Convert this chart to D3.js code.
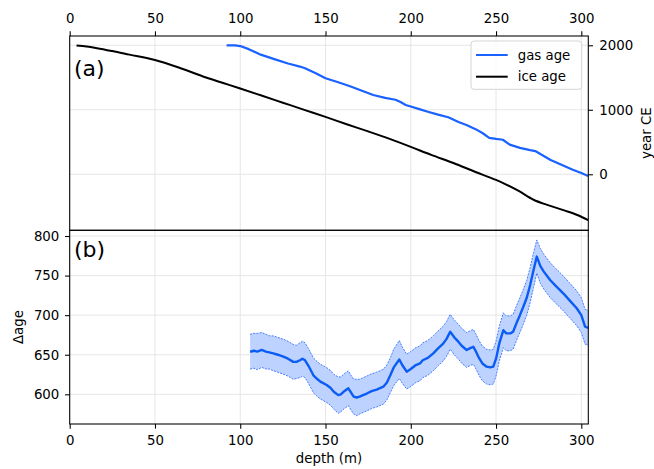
<!DOCTYPE html>
<html><head><meta charset="utf-8">
<script src="https://cdn.jsdelivr.net/npm/d3@7"></script>
<style>body{margin:0;background:#fff}svg{display:block}text{font-family:"DejaVu Sans",sans-serif}</style>
</head><body><svg id="c" width="654" height="469"></svg>
<script>
// ---- data ----
const depthTicks = [0, 50, 100, 150, 200, 250, 300];
const yearTicks = [0, 1000, 2000];
const deltaTicks = [600, 650, 700, 750, 800];

const iceDepth = [4, 10, 16, 25, 35, 50, 65, 80, 90, 100, 112, 125, 138, 150, 162, 175, 188, 200, 212, 225, 238, 250, 256, 263, 272, 280, 290, 298, 304];
const iceAge   = [1995, 1980, 1955, 1910, 1855, 1772, 1645, 1500, 1415, 1330, 1225, 1110, 995, 890, 780, 665, 545, 425, 300, 175, 35, -88, -160, -255, -395, -475, -560, -635, -710];

const gasDepth = [92, 97, 100, 105, 112, 120, 128, 135, 138, 144, 150, 157, 164, 171, 178, 185, 191, 194, 197, 200, 205, 210, 216, 222, 228, 233, 238, 242, 246, 250, 254, 258, 264, 270, 273, 277, 282, 288, 295, 300, 304];
const gasAge   = [2000, 1998, 1988, 1940, 1855, 1785, 1718, 1670, 1643, 1570, 1490, 1430, 1369, 1300, 1229, 1185, 1155, 1120, 1075, 1050, 1010, 970, 925, 885, 810, 760, 700, 640, 565, 548, 535, 460, 410, 375, 360, 300, 222, 150, 70, 20, -25];

const deltaDepth = [105.8, 108, 110, 112.6, 115, 117, 119.4, 122, 125.3, 128, 131.1, 133, 135, 136.5, 138, 140, 142.9, 144.8, 147, 150.7, 153, 155, 157.5, 159, 161, 163.4, 165, 166.5, 168.3, 170, 172, 174.2, 177, 180, 183.9, 186, 188, 190, 193.3, 195, 197.6, 200, 203, 205.4, 207, 210, 213.2, 216, 219, 221, 223.1, 225.5, 227.9, 230, 232.8, 234.5, 236.7, 238, 240, 242, 244.5, 246.5, 248.4, 250, 252, 254.3, 256, 258.4, 260, 262, 264, 266, 268, 270, 272, 273.9, 276, 278, 281.7, 285, 289.4, 293, 297.3, 300, 302.2, 304];
const deltaAge   = [653.8, 655, 654, 656, 654, 653, 651.8, 650, 647.5, 645, 641, 641, 643, 645, 643, 636, 624, 620, 616, 611.7, 608, 603, 599, 600, 604, 607.6, 602, 597, 596, 597, 599, 601, 604, 606, 609.6, 615, 624, 634, 644, 637, 628.6, 632, 637, 639, 643, 646, 651.8, 658, 664, 670, 679, 672, 666.5, 661, 656, 658, 660, 655, 646, 639, 634.9, 634, 635, 645, 665, 681, 677, 677, 679, 690, 700, 710.7, 722, 738, 757, 774, 762, 755, 744.4, 737, 727.6, 719, 708.7, 700, 685.4, 684];
const deltaSigma = [22, 22, 23, 22, 22, 21, 22, 22, 22, 22, 22, 21, 22, 22, 22, 22, 22, 22, 22, 22, 22, 22, 23, 22, 22, 22, 22, 22, 23, 22, 22, 22, 22, 22, 22, 22, 22, 23, 24, 23, 22, 22, 22, 22, 22, 22, 22, 22, 22, 22, 22, 22, 22, 22, 22, 22, 22, 22, 22, 22, 22, 22, 22, 22, 22, 22, 22, 22, 22, 22, 22, 22, 22, 22, 22, 21, 22, 22, 22, 22, 22, 22, 22, 22, 22, 22];

// ---- layout ----
const svg = d3.select('#c');
const L = 69.7, R = 588.3, T1 = 36, B1 = 230.3, T2 = 230.3, B2 = 424;
const x = d3.scaleLinear().domain([0, 304.1]).range([L, R]);
const yT = d3.scaleLinear().domain([-864, 2144]).range([230, T1]);
const yB = d3.scaleLinear().domain([562.5, 806.7]).range([B2, 230.7]);
const blue = '#1a62ff', lineBlue = '#0a5cf5', bandFill = '#bed2ff', gridC = '#e6e6e6';
const FS = '13.33px', FF = '"DejaVu Sans", sans-serif';

const defs = svg.append('defs');
defs.append('clipPath').attr('id', 'clip1').append('rect').attr('x', L).attr('y', T1).attr('width', R - L).attr('height', B1 - T1);
defs.append('clipPath').attr('id', 'clip2').append('rect').attr('x', L).attr('y', T2).attr('width', R - L).attr('height', B2 - T2);

// grids
const grid = svg.append('g').attr('stroke', gridC).attr('stroke-width', 1);
grid.selectAll('line.v1').data(depthTicks).join('line').attr('class', 'v1')
  .attr('x1', d => x(d)).attr('x2', d => x(d)).attr('y1', T1).attr('y2', B1);
grid.selectAll('line.v2').data(depthTicks).join('line').attr('class', 'v2')
  .attr('x1', d => x(d)).attr('x2', d => x(d)).attr('y1', T2).attr('y2', B2);
grid.selectAll('line.h1').data(yearTicks).join('line').attr('class', 'h1')
  .attr('x1', L).attr('x2', R).attr('y1', d => yT(d)).attr('y2', d => yT(d));
grid.selectAll('line.h2').data(deltaTicks).join('line').attr('class', 'h2')
  .attr('x1', L).attr('x2', R).attr('y1', d => yB(d)).attr('y2', d => yB(d));

// panel (a)
const pa = svg.append('g').attr('clip-path', 'url(#clip1)');
const iceData = iceDepth.map((d, i) => ({d, v: iceAge[i]}));
const gasData = gasDepth.map((d, i) => ({d, v: gasAge[i]}));
const lineIce = d3.line().x(p => x(p.d)).y(p => yT(p.v)).curve(d3.curveMonotoneX);
const lineGas = d3.line().x(p => x(p.d)).y(p => yT(p.v));
pa.append('path').datum(gasData).attr('d', lineGas).attr('fill', 'none').attr('stroke', blue).attr('stroke-width', 2.2).attr('stroke-linejoin', 'round');
pa.append('path').datum(iceData).attr('d', lineIce).attr('fill', 'none').attr('stroke', '#000').attr('stroke-width', 2).attr('stroke-linejoin', 'round');

// panel (b)
const pb = svg.append('g').attr('clip-path', 'url(#clip2)');
const dData = deltaDepth.map((d, i) => ({d, v: deltaAge[i], s: deltaSigma[i]}));
pb.append('path').datum(dData)
  .attr('d', d3.area().x(p => x(p.d)).y0(p => yB(p.v - p.s)).y1(p => yB(p.v + p.s)))
  .attr('fill', bandFill).attr('stroke', 'none');
const edge = (f) => d3.line().x(p => x(p.d)).y(p => yB(f(p)));
pb.append('path').datum(dData).attr('d', edge(p => p.v + p.s)).attr('fill', 'none')
  .attr('stroke', blue).attr('stroke-width', 0.8).attr('stroke-dasharray', '2,1.2');
pb.append('path').datum(dData).attr('d', edge(p => p.v - p.s)).attr('fill', 'none')
  .attr('stroke', blue).attr('stroke-width', 0.8).attr('stroke-dasharray', '2,1.2');
pb.append('path').datum(dData).attr('d', d3.line().x(p => x(p.d)).y(p => yB(p.v)))
  .attr('fill', 'none').attr('stroke', lineBlue).attr('stroke-width', 2.4).attr('stroke-linejoin', 'round');

// axes
function styleAxis(g) {
  g.select('.domain').remove();
  g.attr('font-size', null).attr('font-family', null);
  g.selectAll('text').attr('font-size', FS).attr('font-family', FF).attr('fill', '#000');
  g.selectAll('line').attr('stroke', '#000').attr('stroke-width', 1.07);
}
const fmt = d3.format('d');
svg.append('g').attr('transform', `translate(0,${T1})`)
  .call(d3.axisTop(x).tickValues(depthTicks).tickFormat(fmt).tickSize(4.67).tickPadding(8)).call(styleAxis);
svg.append('g').attr('transform', `translate(0,${B2})`)
  .call(d3.axisBottom(x).tickValues(depthTicks).tickFormat(fmt).tickSize(4.67).tickPadding(7)).call(styleAxis);
svg.append('g').attr('transform', `translate(${R},0)`)
  .call(d3.axisRight(yT).tickValues(yearTicks).tickFormat(fmt).tickSize(4.67).tickPadding(6.3)).call(styleAxis);
svg.append('g').attr('transform', `translate(${L},0)`)
  .call(d3.axisLeft(yB).tickValues(deltaTicks).tickFormat(fmt).tickSize(4.67).tickPadding(5.7)).call(styleAxis);

// spines
svg.append('rect').attr('x', L).attr('y', T1).attr('width', R - L).attr('height', B1 - T1)
  .attr('fill', 'none').attr('stroke', '#000').attr('stroke-width', 1.07);
svg.append('rect').attr('x', L).attr('y', T2).attr('width', R - L).attr('height', B2 - T2)
  .attr('fill', 'none').attr('stroke', '#000').attr('stroke-width', 1.07);

// labels
svg.append('text').attr('x', 74).attr('y', 76).attr('font-size', '22px').attr('font-family', FF).text('(a)');
svg.append('text').attr('x', 74).attr('y', 257).attr('font-size', '22px').attr('font-family', FF).text('(b)');
svg.append('text').attr('x', (L + R) / 2).attr('y', 463).attr('text-anchor', 'middle')
  .attr('font-size', FS).attr('font-family', FF).text('depth (m)');
svg.append('text').attr('transform', `translate(650.5,${(T1 + B1) / 2}) rotate(-90)`).attr('text-anchor', 'middle')
  .attr('font-size', FS).attr('font-family', FF).text('year CE');
svg.append('text').attr('transform', `translate(22.5,${(T2 + B2) / 2}) rotate(-90)`).attr('text-anchor', 'middle')
  .attr('font-size', FS).attr('font-family', FF).text('Δage');

// legend
const leg = svg.append('g');
leg.append('rect').attr('x', 471).attr('y', 41).attr('width', 110.7).attr('height', 48.3).attr('rx', 3)
  .attr('fill', '#fff').attr('fill-opacity', 0.8).attr('stroke', '#d5d5d5').attr('stroke-width', 1);
const legItems = [{label: 'gas age', color: blue}, {label: 'ice age', color: '#000'}];
legItems.forEach((it, i) => {
  const yy = 55 + i * 21.7;
  leg.append('line').attr('x1', 476).attr('x2', 507.7).attr('y1', yy).attr('y2', yy)
    .attr('stroke', it.color).attr('stroke-width', 2);
  leg.append('text').attr('x', 517.7).attr('y', yy + 4.7).attr('font-size', FS).attr('font-family', FF).text(it.label);
});
</script></body></html>
